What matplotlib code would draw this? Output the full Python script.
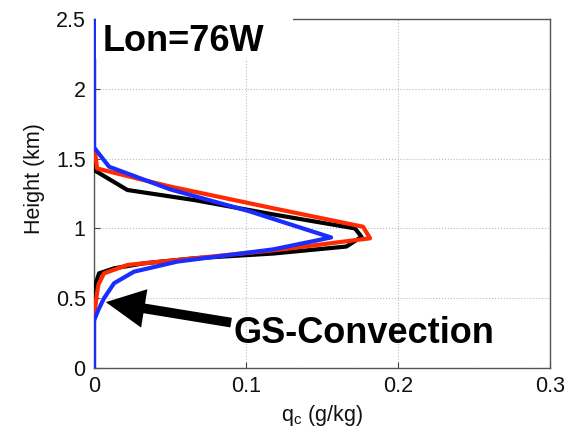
import matplotlib
matplotlib.use("Agg")
import matplotlib.pyplot as plt
from matplotlib.patches import Rectangle

plt.rcParams['font.family'] = ['Liberation Sans', 'DejaVu Sans']
plt.rcParams['mathtext.fontset'] = 'custom'
plt.rcParams['mathtext.rm'] = 'Liberation Sans'

# Data (q_c in g/kg, height in km)
black_q = [0, 0, 0, 0.022, 0.066, 0.118, 0.1717, 0.176, 0.166, 0.118, 0.066, 0.033, 0.0132, 0.0033, 0.001, 0, 0]
black_h = [2.5, 1.5, 1.418, 1.275, 1.203, 1.10, 1.0, 0.94, 0.87, 0.82, 0.786, 0.75, 0.714, 0.678, 0.60, 0.56, 0]
red_q = [0, 0, 0.001, 0.002, 0.009, 0.05, 0.118, 0.177, 0.1816, 0.12, 0.066, 0.022, 0.0066, 0.003, 0.002, 0.001, 0, 0]
red_h = [2.5, 1.54, 1.52, 1.43, 1.41, 1.30, 1.144, 1.012, 0.929, 0.845, 0.786, 0.738, 0.678, 0.60, 0.537, 0.45, 0.40, 0]
blue_q = [0, 0, 0.0099, 0.05, 0.103, 0.156, 0.118, 0.0548, 0.0263, 0.0132, 0.0066, 0.003, 0, 0]
blue_h = [2.5, 1.58, 1.442, 1.28, 1.12, 0.935, 0.85, 0.762, 0.69, 0.607, 0.50, 0.42, 0.34, 0]

xticks = [0, 0.1, 0.2, 0.3]
xticklabels = ["0", "0.1", "0.2", "0.3"]
yticks = [0, 0.5, 1, 1.5, 2, 2.5]
yticklabels = ["0", "0.5", "1", "1.5", "2", "2.5"]

fig = plt.figure(figsize=(5.7, 4.38), dpi=100)
ax = fig.add_axes([94/570, 1-368/438, 456/570, 349/438])

lw = 3.0
ax.plot(black_q, black_h, color='black', lw=lw, zorder=3)
ax.plot(red_q, red_h, color='#ff2a00', lw=lw, zorder=4)
ax.plot(blue_q, blue_h, color='#1a2dff', lw=lw, zorder=5)

ax.set_xlim(0, 0.3)
ax.set_ylim(0, 2.5)
ax.set_xticks(xticks)
ax.set_xticklabels(xticklabels)
ax.set_yticks(yticks)
ax.set_yticklabels(yticklabels)
ax.tick_params(direction='in', length=4, labelsize=15.5, color='#444444', pad=6,
               labelcolor='#111111')
ax.grid(True, linestyle=':', color='#bbbbbb', lw=0.8)
for s in ax.spines.values():
    s.set_color('#555555')
    s.set_linewidth(1.0)

ax.set_xlabel('q$_{\\mathregular{c}}$ (g/kg)', fontsize=15.5, labelpad=4, color='#111111')
ax.set_ylabel('Height (km)', fontsize=15.5, color='#111111')
ax.yaxis.set_label_coords(-0.108, 0.544)

# White box behind label covering top spine
ax.add_patch(Rectangle((0.004, 0.885), 0.432, 0.14, transform=ax.transAxes,
                       facecolor='white', edgecolor='none', clip_on=False, zorder=6))
ax.text(0.02, 0.908, 'Lon=76W', transform=ax.transAxes, fontsize=26,
        fontweight='bold', ha='left', va='baseline', zorder=7)

ax.annotate('', xy=(0.006, 0.475), xytext=(0.092, 0.322),
            arrowprops=dict(arrowstyle='simple,head_length=1.0,head_width=1.0,tail_width=0.25',
                            mutation_scale=28, color='black', lw=0),
            zorder=8)
ax.text(0.092, 0.18, 'GS-Convection', fontsize=26, fontweight='bold',
        ha='left', va='baseline', zorder=8)

fig.savefig('out.png', dpi=100)
